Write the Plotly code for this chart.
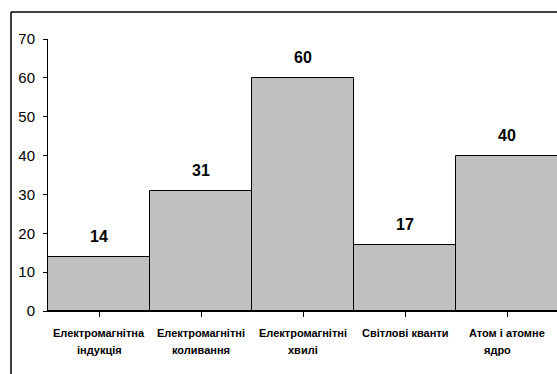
import plotly.graph_objects as go

# Topics (two-line category labels) and their scores
topic_line1 = ["Електромагнітна", "Електромагнітні", "Електромагнітні", "Світлові кванти", "Атом і атомне"]
topic_line2 = ["індукція", "коливання", "хвилі", "", "ядро"]
scores = [14, 31, 60, 17, 40]
y_ticks = [0, 10, 20, 30, 40, 50, 60, 70]

FONT = "Liberation Sans Narrow, Arial Narrow, Liberation Sans, Arial, sans-serif"

W, H = 557, 374
L, R, T, B = 48, 0, 39, 63

x_pos = list(range(len(scores)))

fig = go.Figure(
    go.Bar(
        x=x_pos,
        y=scores,
        marker=dict(color="#C0C0C0", line=dict(color="#000000", width=1)),
        width=1.0,
        hoverinfo="skip",
    )
)

# Bold value labels above each bar
for i, v in zip(x_pos, scores):
    fig.add_annotation(
        x=i, y=v, text=f"<b>{v}</b>", showarrow=False,
        yanchor="bottom", yshift=10,
        font=dict(family=FONT, size=16, color="#000000"),
    )

# Category labels under the axis, one annotation per line
label_nudge = [0, 0, 0, 0, -10]
for i, (a, b) in enumerate(zip(topic_line1, topic_line2)):
    fig.add_annotation(
        x=i, y=0, yref="paper", text=f"<b>{a}</b>", showarrow=False,
        yanchor="middle", yshift=-22,
        font=dict(family=FONT, size=11, color="#000000"),
    )
    if b:
        fig.add_annotation(
            x=i, y=0, yref="paper", text=f"<b>{b}</b>", showarrow=False,
            yanchor="middle", yshift=-39, xshift=label_nudge[i],
            font=dict(family=FONT, size=11, color="#000000"),
        )

# Outer frame: left and top edges of the chart area
pw = W - L - R
ph = H - T - B


def px_x(px):
    return (px - L) / pw


def px_y(py):
    return (H - B - py) / ph


fig.add_shape(type="line", xref="paper", yref="paper",
              x0=px_x(11), x1=px_x(11), y0=px_y(12), y1=px_y(H + 5),
              line=dict(color="#000000", width=1.5))
fig.add_shape(type="line", xref="paper", yref="paper",
              x0=px_x(11), x1=px_x(W + 5), y0=px_y(12), y1=px_y(12),
              line=dict(color="#000000", width=1.5))

fig.update_layout(
    width=W, height=H,
    margin=dict(l=L, r=R, t=T, b=B, pad=0),
    paper_bgcolor="#FFFFFF",
    plot_bgcolor="#FFFFFF",
    bargap=0,
    showlegend=False,
    font=dict(family=FONT, color="#000000"),
)

fig.update_xaxes(
    range=[-0.5, 4.49],
    tickmode="array",
    tickvals=x_pos,
    ticktext=["" for _ in x_pos],
    tickson="boundaries",
    ticks="outside", ticklen=5, tickcolor="#000000", tickwidth=1,
    showline=True, linecolor="#000000", linewidth=1,
    showgrid=False, zeroline=False,
    fixedrange=True,
)

fig.update_yaxes(
    range=[0, 70],
    tickmode="array",
    tickvals=y_ticks,
    ticks="outside", ticklen=4, tickcolor="#000000", tickwidth=1,
    tickfont=dict(family=FONT, size=15, color="#000000"),
    ticklabelstandoff=5,
    showline=True, linecolor="#000000", linewidth=1,
    showgrid=False, zeroline=False,
    fixedrange=True,
)

fig.write_html("out.html", config={"displayModeBar": False})
